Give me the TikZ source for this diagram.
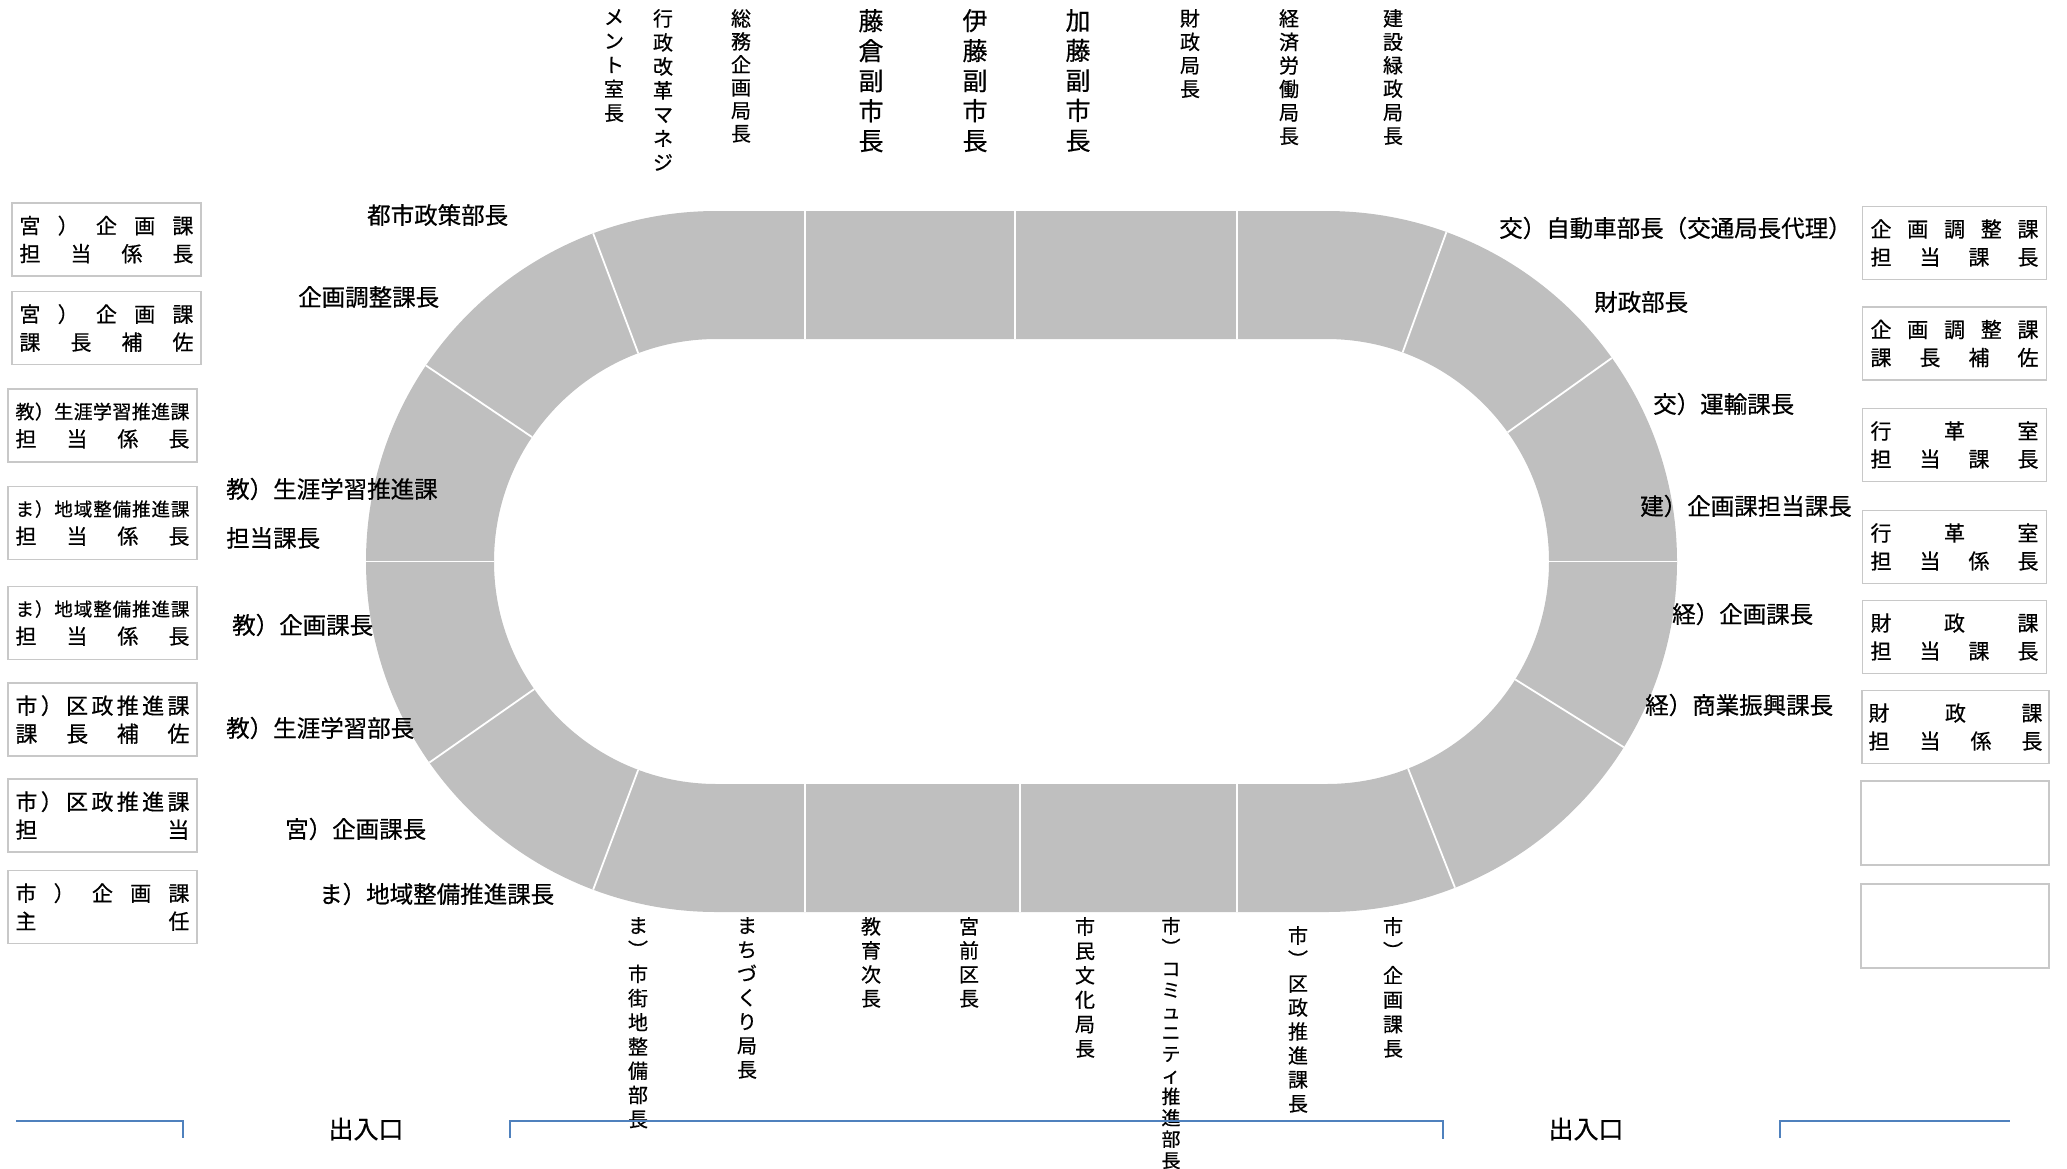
\documentclass[tikz,border=0pt]{standalone}
\usepackage{fontspec}
\setmainfont{Noto Sans CJK JP}[FakeBold=0.6]
\usepackage{graphicx}
\usepackage{tikz}
\setlength{\parindent}{0pt}

\definecolor{seatgray}{RGB}{191,191,191}
\definecolor{framegray}{RGB}{200,200,200}
\definecolor{doorblue}{RGB}{79,129,189}

% ） turned for the vertical labels
\newcommand{\tkakko}{\rotatebox[origin=c]{-90}{）}}

\tikzset{
  band/.style={fill=seatgray, even odd rule},
  divider/.style={draw=white, line width=1.8pt},
  yoko/.style={anchor=west, inner sep=0pt, font=\fontsize{23.5}{26}\selectfont},
  tate/.style={anchor=north, align=center, inner sep=0pt, font=\fontsize{20}{23.5}\selectfont},
  tatebig/.style={tate, font=\fontsize{25}{30}\selectfont},
  fuda/.style={draw=framegray, line width=1.6pt, inner sep=0pt, align=left,
    minimum height=73pt, font=\fontsize{21}{28}\selectfont},
  fudaL/.style={fuda, minimum width=189pt, text width=174pt},
  fudaR/.style={fuda, minimum width=184pt, text width=168pt},
  door/.style={draw=doorblue, line width=2.2pt},
  doorname/.style={inner sep=0pt, font=\fontsize{25}{27}\selectfont}
}

\begin{document}
\begin{tikzpicture}[x=1pt,y=1pt]
\useasboundingbox (0,0) rectangle (2067,-1168);

% the ring of seats
\coordinate (cl) at (716.5,-561.5);
\coordinate (cr) at (1326.5,-561.5);
\fill[band] (716.5,-211) -- (1326.5,-211) arc[start angle=90,end angle=-90,radius=350.5pt]
  -- (716.5,-912) arc[start angle=270,end angle=90,radius=350.5pt] -- cycle
  (716.5,-339) -- (1326.5,-339) arc[start angle=90,end angle=-90,radius=222.5pt]
  -- (716.5,-784) arc[start angle=270,end angle=90,radius=222.5pt] -- cycle;

\foreach \a in {110.6,146,180,215,249.4}
  \draw[divider, shift={(cl)}] (\a:222.5pt) -- (\a:350.5pt);
\foreach \a in {70,35.5,0,-32,-68.5}
  \draw[divider, shift={(cr)}] (\a:222.5pt) -- (\a:350.5pt);
\foreach \x in {805,1015,1237}
  \draw[divider] (\x,-211) -- (\x,-339);
\foreach \x in {805,1020,1237}
  \draw[divider] (\x,-784) -- (\x,-912);

% top row
\node[tate, font=\fontsize{20}{24}\selectfont] (tp1) at (614,-9) {メ\\ン\\ト\\室\\長};
\node[tate, font=\fontsize{20}{24}\selectfont] (tp2) at (663,-9) {行\\政\\改\\革\\マ\\ネ\\ジ};
\node[tate, font=\fontsize{20}{23}\selectfont] (tp3) at (741,-9) {総\\務\\企\\画\\局\\長};
\node[tatebig] (tp4) at (871,-9) {藤\\倉\\副\\市\\長};
\node[tatebig] (tp5) at (975,-9) {伊\\藤\\副\\市\\長};
\node[tatebig] (tp6) at (1078,-9) {加\\藤\\副\\市\\長};
\node[tate] (tp7) at (1190,-9) {財\\政\\局\\長};
\node[tate] (tp8) at (1289,-9) {経\\済\\労\\働\\局\\長};
\node[tate] (tp9) at (1393,-9) {建\\設\\緑\\政\\局\\長};

% bottom row
\node[tate, font=\fontsize{20}{24.2}\selectfont] (bt1) at (638,-917) {ま\\\tkakko\\市\\街\\地\\整\\備\\部\\長};
\node[tate, font=\fontsize{20}{24}\selectfont] (bt2) at (747,-917) {ま\\ち\\づ\\く\\り\\局\\長};
\node[tate, font=\fontsize{20}{24}\selectfont] (bt3) at (871,-917) {教\\育\\次\\長};
\node[tate, font=\fontsize{20}{24}\selectfont] (bt4) at (969,-917) {宮\\前\\区\\長};
\node[tate, font=\fontsize{20}{24.4}\selectfont] (bt5) at (1085,-917) {市\\民\\文\\化\\局\\長};
\node[tate, font=\fontsize{19}{21.3}\selectfont] (bt6) at (1171,-917) {市\\\tkakko\\コ\\ミ\\ュ\\ニ\\テ\\ィ\\推\\進\\部\\長};
\node[tate, font=\fontsize{20}{24}\selectfont] (bt7) at (1298,-926) {市\\\tkakko\\区\\政\\推\\進\\課\\長};
\node[tate, font=\fontsize{20}{24.4}\selectfont] (bt8) at (1393,-917) {市\\\tkakko\\企\\画\\課\\長};

% left side
\node[yoko] (lt1) at (367,-215) {都市政策部長};
\node[yoko] (lt2) at (298,-297) {企画調整課長};
\node[yoko] (lt3) at (226,-489) {教）生涯学習推進課};
\node[yoko] (lt4) at (226,-538) {担当課長};
\node[yoko] (lt5) at (232,-625) {教）企画課長};
\node[yoko] (lt6) at (226,-728) {教）生涯学習部長};
\node[yoko] (lt7) at (285,-829) {宮）企画課長};
\node[yoko] (lt8) at (319,-894) {ま）地域整備推進課長};

% right side
\node[yoko] (rt1) at (1499,-228) {交）自動車部長（交通局長代理）};
\node[yoko] (rt2) at (1594,-302) {財政部長};
\node[yoko] (rt3) at (1653,-404) {交）運輸課長};
\node[yoko] (rt4) at (1640,-506) {建）企画課担当課長};
\node[yoko] (rt5) at (1672,-614) {経）企画課長};
\node[yoko] (rt6) at (1645,-705) {経）商業振興課長};

% name cards, left
\node[fudaL] (lb1) at (106.5,-239.5) {宮\hfill ）\hfill 企\hfill 画\hfill 課\\担\hfill 当\hfill 係\hfill 長};
\node[fudaL] (lb2) at (106.5,-328) {宮\hfill ）\hfill 企\hfill 画\hfill 課\\課\hfill 長\hfill 補\hfill 佐};
\node[fudaL] (lb3) at (102.5,-425.5) {{\fontsize{19}{28}\selectfont 教\hfill ）\hfill 生\hfill 涯\hfill 学\hfill 習\hfill 推\hfill 進\hfill 課}\\担\hfill 当\hfill 係\hfill 長};
\node[fudaL] (lb4) at (102.5,-523) {{\fontsize{18.5}{28}\selectfont ま\hfill ）\hfill 地\hfill 域\hfill 整\hfill 備\hfill 推\hfill 進\hfill 課}\\担\hfill 当\hfill 係\hfill 長};
\node[fudaL] (lb5) at (102.5,-623) {{\fontsize{18.5}{28}\selectfont ま\hfill ）\hfill 地\hfill 域\hfill 整\hfill 備\hfill 推\hfill 進\hfill 課}\\担\hfill 当\hfill 係\hfill 長};
\node[fudaL, font=\fontsize{22}{28}\selectfont] (lb6) at (102.5,-719.5) {市\hfill ）\hfill 区\hfill 政\hfill 推\hfill 進\hfill 課\\課\hfill 長\hfill 補\hfill 佐};
\node[fudaL, font=\fontsize{22}{28}\selectfont] (lb7) at (102.5,-815.5) {市\hfill ）\hfill 区\hfill 政\hfill 推\hfill 進\hfill 課\\担\hfill 当};
\node[fudaL] (lb8) at (102.5,-907) {市\hfill ）\hfill 企\hfill 画\hfill 課\\主\hfill 任};

% name cards, right
\node[fudaR] (rb1) at (1954.5,-243) {企\hfill 画\hfill 調\hfill 整\hfill 課\hspace*{16pt}\\担\hfill 当\hfill 課\hfill 長};
\node[fudaR] (rb2) at (1954.5,-343.5) {企\hfill 画\hfill 調\hfill 整\hfill 課\\課\hfill 長\hfill 補\hfill 佐};
\node[fudaR] (rb3) at (1954.5,-445) {行\hfill 革\hfill 室\hspace*{15pt}\\担\hfill 当\hfill 課\hfill 長\hspace*{15pt}};
\node[fudaR] (rb4) at (1954.5,-547) {行\hfill 革\hfill 室\hspace*{15pt}\\担\hfill 当\hfill 係\hfill 長};
\node[fudaR] (rb5) at (1954.5,-637) {財\hfill 政\hfill 課\hspace*{15pt}\\担\hfill 当\hfill 課\hfill 長};
\node[fudaR, minimum width=187pt, text width=174pt] (rb6) at (1955.5,-727) {財\hfill 政\hfill 課\hspace*{24pt}\\担\hfill 当\hfill 係\hfill 長};
\node[fudaR, minimum width=188pt, minimum height=84pt] (rb7) at (1955,-823) {};
\node[fudaR, minimum width=188pt, minimum height=84pt] (rb8) at (1955,-926) {};

% doors
\draw[door] (16,-1121) -- (183,-1121) -- (183,-1138);
\draw[door] (510,-1138) -- (510,-1121) -- (1443,-1121) -- (1443,-1139);
\draw[door] (1780,-1138) -- (1780,-1121) -- (2010,-1121);
\node[doorname] (ent1) at (366,-1129) {出入口};
\node[doorname] (ent2) at (1586,-1129) {出入口};
\end{tikzpicture}
\end{document}
